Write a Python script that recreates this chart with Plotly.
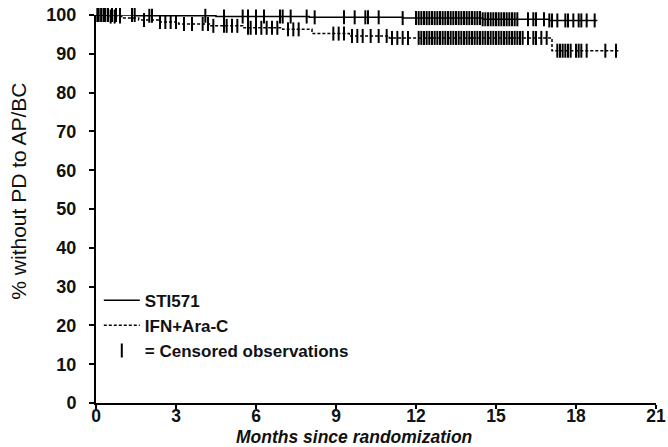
import numpy as np
import plotly.graph_objects as go

# ---------------- data ----------------
# Kaplan-Meier steps (months, % without progression)
sti_event_t = [1.5, 4.5, 8.0, 11.5, 14.5, 17.0]
sti_event_s = [99.8, 99.6, 99.4, 99.2, 98.9, 98.6]
sti_end = 18.8

ifn_event_t = [0.5, 1.0, 1.6, 2.4, 3.1, 4.3, 5.5, 7.0, 8.1, 9.5, 11.0, 17.1]
ifn_event_s = [99.6, 99.2, 98.7, 98.2, 97.7, 97.2, 96.7, 96.3, 95.2, 94.6, 94.1, 90.8]
ifn_end = 19.6

# censored observation times (months)
sti_censor = [0.1, 0.2, 0.3, 0.45, 0.6, 0.75, 0.9, 1.35, 1.45, 2.0, 2.1, 4.1, 4.8, 5.5, 5.7,
              6.0, 6.3, 6.9, 7.0, 7.3, 7.9, 8.2, 9.3, 9.7, 10.1, 10.2, 10.6, 11.5,
              12.0, 12.1, 12.2, 12.3, 12.4, 12.5, 12.6, 12.7, 12.8, 12.9, 13.0, 13.1,
              13.2, 13.3, 13.4, 13.5, 13.6, 13.7, 13.8, 13.9, 14.0, 14.1, 14.2, 14.3,
              14.4, 14.5, 14.6, 14.7, 14.8, 14.9, 15.0, 15.1, 15.2, 15.3, 15.4, 15.5,
              15.6, 15.7, 15.8, 16.2, 16.4, 16.5, 16.8, 17.0, 17.1, 17.3, 17.6,
              17.7, 17.9, 18.1, 18.2, 18.4, 18.7]
ifn_censor = [0.05, 0.2, 0.35, 0.55, 0.7, 0.9, 1.8, 2.4, 2.6, 2.8, 3.0, 3.3, 3.6,
              4.0, 4.2, 4.4, 4.8, 4.9, 5.1, 5.3, 5.7, 5.8, 6.0, 6.2, 6.4, 6.6, 6.8,
              7.2, 7.4, 7.6, 8.9, 9.1, 9.3, 9.6, 9.8, 10.0, 10.3, 10.6, 10.9,
              11.1, 11.3, 11.5, 11.7, 12.1, 12.2, 12.3, 12.4, 12.5, 12.6, 12.7, 12.8,
              12.9, 13.0, 13.1, 13.2, 13.3, 13.4, 13.5, 13.6, 13.7, 13.8, 13.9, 14.0,
              14.1, 14.2, 14.3, 14.4, 14.5, 14.6, 14.7, 14.8, 14.9, 15.0, 15.1, 15.2,
              15.3, 15.4, 15.5, 15.6, 15.7, 15.8, 15.9, 16.0, 16.2, 16.4, 16.5, 16.7,
              16.9, 17.3, 17.4, 17.5, 17.6, 17.7, 17.8, 18.0, 18.1, 18.2, 18.4,
              19.1, 19.5]

x_ticks = [0, 3, 6, 9, 12, 15, 18, 21]
y_ticks = [0, 10, 20, 30, 40, 50, 60, 70, 80, 90, 100]


def km_curve(ts, ss, end):
    xs, ys = [0.0], [100.0]
    prev = 100.0
    for t, s in zip(ts, ss):
        xs += [t, t]
        ys += [prev, s]
        prev = s
    xs.append(end)
    ys.append(prev)
    return xs, ys


def km_at(ts, ss, times):
    out = []
    for c in times:
        v = 100.0
        for t, s in zip(ts, ss):
            if c >= t:
                v = s
        out.append(v)
    return out


FONT = "Liberation Sans, Arial, sans-serif"
fig = go.Figure()

sx, sy = km_curve(sti_event_t, sti_event_s, sti_end)
ix, iy = km_curve(ifn_event_t, ifn_event_s, ifn_end)

fig.add_trace(go.Scatter(x=sx, y=sy, mode="lines", name="STI571",
                         line=dict(color="black", width=1.5), cliponaxis=False))
fig.add_trace(go.Scatter(x=ix, y=iy, mode="lines", name="IFN+Ara-C",
                         line=dict(color="black", width=1.5, dash="3px,2px"),
                         cliponaxis=False))
fig.add_trace(go.Scatter(x=sti_censor, y=km_at(sti_event_t, sti_event_s, sti_censor),
                         mode="markers", name="= Censored observations",
                         marker=dict(symbol="line-ns", size=10,
                                     line=dict(color="black", width=2)),
                         cliponaxis=False))
fig.add_trace(go.Scatter(x=ifn_censor, y=km_at(ifn_event_t, ifn_event_s, ifn_censor),
                         mode="markers", showlegend=False,
                         marker=dict(symbol="line-ns", size=10,
                                     line=dict(color="black", width=2)),
                         cliponaxis=False))

fig.update_layout(
    width=668, height=447,
    margin=dict(l=96, r=12, t=15, b=44),
    paper_bgcolor="white", plot_bgcolor="white",
    font=dict(family=FONT, size=18, color="#111"),
    showlegend=True,
    legend=dict(x=0.005, y=0.31, xanchor="left", yanchor="top",
                bgcolor="rgba(0,0,0,0)",
                font=dict(size=17, family=FONT, weight="bold"),
                itemwidth=36, tracegroupgap=0),
    xaxis=dict(range=[0, 21], tickvals=x_ticks, ticktext=[str(v) for v in x_ticks],
               showgrid=False, zeroline=False, showline=True, linecolor="black",
               linewidth=1.5, ticks="outside", ticklen=4, tickwidth=1.5,
               tickcolor="black", automargin=False, ticklabeloverflow="allow",
               ticklabelstandoff=-8,
               tickfont=dict(size=17.5, weight="bold")),
    yaxis=dict(range=[0, 100], tickvals=y_ticks, ticktext=[str(v) for v in y_ticks],
               showgrid=False, zeroline=False, showline=True, linecolor="black",
               linewidth=2, ticks="outside", ticklen=5, tickwidth=1.5,
               tickcolor="black", automargin=False, ticklabelstandoff=9,
               tickfont=dict(size=18, weight="bold")),
    annotations=[
        dict(text="% without PD to AP/BC", xref="paper", yref="paper",
             x=-0.139, y=0.545, xanchor="center", yanchor="middle",
             textangle=-90, showarrow=False,
             font=dict(size=21, family=FONT, color="#111")),
        dict(text="<i>Months since randomization</i>", xref="paper", yref="paper",
             x=0.46, y=-0.0865, xanchor="center", yanchor="middle",
             showarrow=False,
             font=dict(size=17.5, family=FONT, color="#111", weight="bold")),
    ],
)

fig.write_html("out.html", post_script="document.body.style.margin='0';",
               config={"displayModeBar": False})
